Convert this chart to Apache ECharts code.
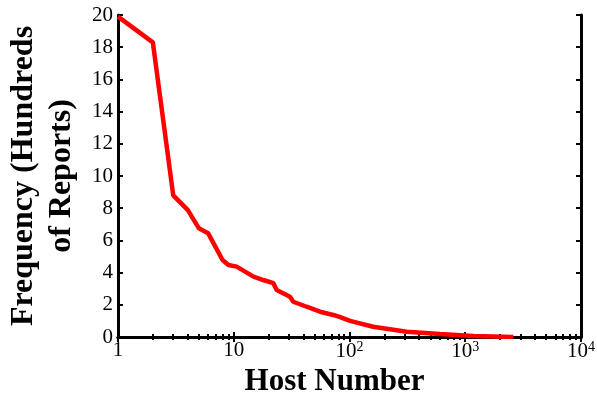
<!DOCTYPE html>
<html>
<head>
<meta charset="utf-8">
<script src="https://cdn.jsdelivr.net/npm/echarts@6/dist/echarts.min.js"></script>
<style>
  html, body { margin: 0; padding: 0; background: #fff; }
  #chart { width: 597px; height: 393px; }
</style>
</head>
<body>
<div id="chart"></div>
<script>
// host rank vs. report frequency (hundreds)
const hosts = [1, 2, 3, 4, 5, 6, 8, 9, 10.6, 14.8, 18, 22, 23.5, 30.6, 32.7, 42.6, 55.6, 72.4, 82, 101, 160, 312, 605, 1175, 2600]
const freq = [19.9, 18.3, 8.8, 7.9, 6.75, 6.45, 4.78, 4.47, 4.37, 3.75, 3.54, 3.34, 2.92, 2.5, 2.19, 1.88, 1.57, 1.37, 1.25, 1.0, 0.64, 0.33, 0.19, 0.06, 0.0]
const yTicks = [0, 2, 4, 6, 8, 10, 12, 14, 16, 18, 20]

const serif = 'Liberation Serif'

const fmtX = v => {
  const p = Math.round(Math.log10(v))
  if (p === 0) return '1'
  if (p === 1) return '10'
  return '10{sup|' + p + '}'
}

const logAxis = {
  type: 'log',
  logBase: 10,
  min: 1,
  max: 10000,
  axisLine: { lineStyle: { color: '#000', width: 3 } },
  axisTick: { inside: true, length: 5, lineStyle: { color: '#000', width: 2 } },
  minorTick: { show: true, splitNumber: 9, length: 3, lineStyle: { color: '#000', width: 2 } },
  splitLine: { show: false },
  minorSplitLine: { show: false }
}

const linAxis = {
  type: 'value',
  min: yTicks[0],
  max: yTicks[yTicks.length - 1],
  interval: yTicks[1] - yTicks[0],
  axisLine: { show: true, lineStyle: { color: '#000', width: 3 } },
  axisTick: { show: true, inside: true, length: 5, lineStyle: { color: '#000', width: 2 } },
  splitLine: { show: false }
}

const chart = echarts.init(document.getElementById('chart'))
chart.setOption({
  animation: false,
  backgroundColor: '#fff',
  grid: { left: 118, right: 16, top: 15, bottom: 56, containLabel: false, outerBoundsMode: 'none' },
  xAxis: [{
    ...logAxis,
    position: 'bottom',
    name: 'Host Number',
    nameLocation: 'middle',
    nameGap: 22,
    nameTextStyle: { fontFamily: serif, fontWeight: 'bold', fontSize: 31, color: '#000', padding: [0, 30, 0, 0] },
    axisLabel: {
      formatter: fmtX,
      margin: 3,
      fontFamily: serif,
      fontSize: 21,
      color: '#000',
      rich: {
        sup: { fontFamily: serif, fontSize: 14, color: '#000', verticalAlign: 'top', padding: [0, 0, 8, 0] }
      }
    }
  }, {
    ...logAxis,
    position: 'top',
    axisLabel: { show: false }
  }],
  yAxis: [{
    ...linAxis,
    position: 'left',
    name: 'Frequency (Hundreds\nof Reports)',
    nameLocation: 'middle',
    nameRotate: 90,
    nameGap: 36,
    nameTextStyle: { fontFamily: serif, fontWeight: 'bold', fontSize: 32, lineHeight: 38, color: '#000', align: 'center' },
    axisLabel: { margin: 5, fontFamily: serif, fontSize: 21, color: '#000' }
  }, {
    ...linAxis,
    position: 'right',
    axisLabel: { show: false }
  }],
  series: [{
    type: 'line',
    data: hosts.map((h, i) => [h, freq[i]]),
    showSymbol: false,
    lineStyle: { color: '#ff0000', width: 4.5 },
    z: 1
  }]
})
</script>
</body>
</html>
